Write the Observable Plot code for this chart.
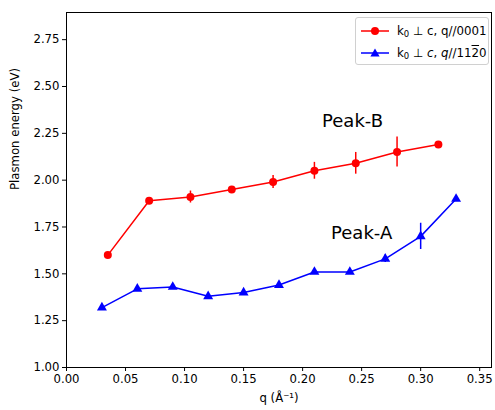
<!DOCTYPE html>
<html>
<head>
<meta charset="utf-8">
<script src="https://cdn.jsdelivr.net/npm/d3@7"></script>
<script src="https://cdn.jsdelivr.net/npm/@observablehq/plot@0.6"></script>
<style>
  body { margin: 0; background: #fff; }
  #wrap { position: relative; width: 495px; height: 410px; font-family: "DejaVu Sans", sans-serif; }
  #legend {
    position: absolute; left: 355px; top: 17px; width: 134px; height: 48px;
    border: 1px solid #d0d0d0; border-radius: 3px; background: rgba(255,255,255,0.8);
    box-sizing: border-box; font-size: 11.8px; color: #000;
  }
  .row { position: absolute; left: 0; height: 16px; display: flex; align-items: center; }
  .row svg { margin-left: 5px; }
  .row span.t { margin-left: 8px; white-space: nowrap; }
  sub { font-size: 8.5px; vertical-align: -2px; }
  .ov { text-decoration: overline; }
</style>
</head>
<body>
<div id="wrap"></div>
<script>
// Peak-B (red, q//0001)
const qB = [0.035, 0.07, 0.105, 0.14, 0.175, 0.21, 0.245, 0.28, 0.315];
const eB = [1.60, 1.89, 1.91, 1.95, 1.99, 2.05, 2.09, 2.15, 2.19];
const errB = [0, 0, 0.032, 0.015, 0.035, 0.045, 0.058, 0.08, 0];
// Peak-A (blue, q//11-20)
const qA = [0.03, 0.06, 0.09, 0.12, 0.15, 0.18, 0.21, 0.24, 0.27, 0.30, 0.33];
const eA = [1.32, 1.42, 1.43, 1.38, 1.40, 1.44, 1.51, 1.51, 1.58, 1.70, 1.90];
const errA = [0, 0, 0, 0, 0, 0, 0, 0, 0.02, 0.07, 0];

const xTicks = [0, 0.05, 0.10, 0.15, 0.20, 0.25, 0.30, 0.35];
const yTicks = [1.00, 1.25, 1.50, 1.75, 2.00, 2.25, 2.50, 2.75];

const annotations = [
  {x: 0.2423, y: 2.315, text: "Peak-B"},
  {x: 0.250, y: 1.717, text: "Peak-A"}
];

const B = qB.map((q, i) => ({q, e: eB[i], err: errB[i]}));
const A = qA.map((q, i) => ({q, e: eA[i], err: errA[i]}));
const red = "#ff0000", blue = "#0000ff";

const chart = Plot.plot({
  width: 495,
  height: 410,
  marginLeft: 66,
  marginRight: 4,
  marginTop: 12,
  marginBottom: 43,
  style: {fontFamily: "DejaVu Sans, sans-serif", fontSize: "11.7px", color: "#000", background: "#fff"},
  x: {domain: [0, 0.36], ticks: xTicks, tickFormat: d3.format(".2f"), label: null, tickSize: 4, tickPadding: 3},
  y: {domain: [1, 2.895], ticks: yTicks, tickFormat: d3.format(".2f"), label: null, tickSize: 4, tickPadding: 3},
  marks: [
    Plot.ruleX(B.filter(d => d.err > 0), {x: "q", y1: d => d.e - d.err, y2: d => d.e + d.err, stroke: red, strokeWidth: 1.5}),
    Plot.line(B, {x: "q", y: "e", stroke: red, strokeWidth: 1.5}),
    Plot.dot(B, {x: "q", y: "e", r: 4, fill: red, stroke: null}),
    Plot.ruleX(A.filter(d => d.err > 0), {x: "q", y1: d => d.e - d.err, y2: d => d.e + d.err, stroke: blue, strokeWidth: 1.5}),
    Plot.line(A, {x: "q", y: "e", stroke: blue, strokeWidth: 1.5}),
    Plot.dot(A, {x: "q", y: "e", r: 3.7, symbol: "triangle", fill: blue, stroke: null}),
    Plot.text(annotations, {x: "x", y: "y", text: "text", fontSize: 18, fill: "#000"}),
    Plot.text(["Plasmon energy (eV)"], {frameAnchor: "left", dx: -51, rotate: -90, fontSize: 11.7, fill: "#000"}),
    Plot.text(["q (Å⁻¹)"], {frameAnchor: "bottom", dy: 34, fontSize: 11.7, fill: "#000"}),
    Plot.frame({stroke: "#000", strokeWidth: 1})
  ]
});

const wrap = document.getElementById("wrap");
wrap.appendChild(chart);

const legend = document.createElement("div");
legend.id = "legend";
legend.innerHTML = `
  <div class="row" style="top:5px">
    <svg width="28" height="10"><line x1="0" y1="5" x2="28" y2="5" stroke="${red}" stroke-width="1.5"/><circle cx="14" cy="5" r="4" fill="${red}"/></svg>
    <span class="t">k<sub>0</sub> ⊥ c, q//0001</span>
  </div>
  <div class="row" style="top:27px">
    <svg width="28" height="10"><line x1="0" y1="5" x2="28" y2="5" stroke="${blue}" stroke-width="1.5"/><path d="M14,0.5 L18.6,8.5 L9.4,8.5 Z" fill="${blue}"/></svg>
    <span class="t">k<sub>0</sub> ⊥ <i>c</i>, <i>q</i>//11<span class="ov">2</span>0</span>
  </div>`;
wrap.appendChild(legend);
</script>
</body>
</html>
